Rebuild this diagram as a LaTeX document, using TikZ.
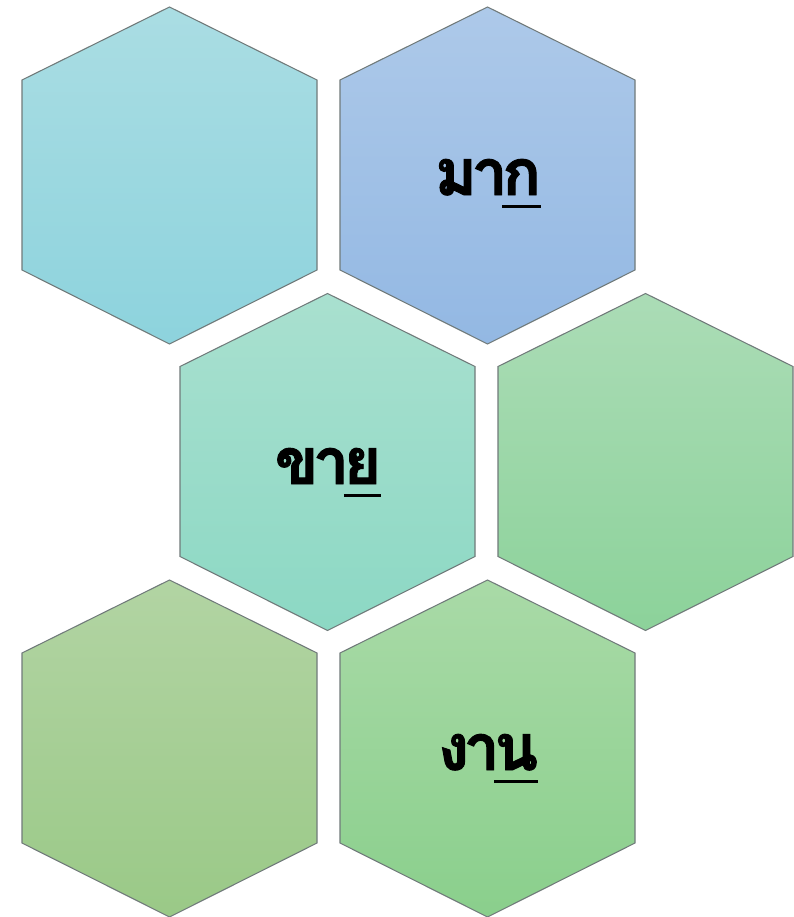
\documentclass[tikz,border=0pt]{standalone}
\usepackage{fontspec}
\newfontfamily\thaifont[Script=Thai, BoldFeatures={FakeBold=1.5}]{Loma}
\usetikzlibrary{positioning}

\definecolor{hexedge}{RGB}{112,122,122}
\definecolor{tealtop}{RGB}{170,221,227}
\definecolor{tealbot}{RGB}{141,211,221}
\definecolor{bluetop}{RGB}{173,201,233}
\definecolor{bluebot}{RGB}{147,184,227}
\definecolor{minttop}{RGB}{169,224,207}
\definecolor{mintbot}{RGB}{140,216,196}
\definecolor{greentop}{RGB}{171,220,182}
\definecolor{greenbot}{RGB}{140,210,154}
\definecolor{olivetop}{RGB}{178,212,163}
\definecolor{olivebot}{RGB}{154,201,135}
\definecolor{leaftop}{RGB}{169,218,167}
\definecolor{leafbot}{RGB}{138,207,140}

\newcommand{\hexcell}[2]{(#1,#2) ++(0,-168.5) -- ++(147.5,73) -- ++(0,190) -- ++(-147.5,74) -- ++(-147.5,-74) -- ++(0,-190) -- cycle}
\newcommand{\thaiul}[1]{\setbox0=\hbox{#1}\rlap{\rule[-9.8pt]{\wd0}{2.3pt}}\box0}
\newcommand{\tk}{\kern-4pt}

\begin{document}
\begin{tikzpicture}[x=0.75pt, y=-0.75pt,
    hexline/.style={draw=hexedge, line width=0.8pt, shading=axis, shading angle=0},
    hextext/.style={font=\thaifont\bfseries\fontsize{48}{58}\selectfont, anchor=base, inner sep=0pt}]
    \useasboundingbox (0,0) rectangle (793,917);

    \draw[hexline, top color=tealtop, bottom color=tealbot] \hexcell{169.5}{175.5};
    \draw[hexline, top color=bluetop, bottom color=bluebot] \hexcell{487.5}{175.5};
    \draw[hexline, top color=minttop, bottom color=mintbot] \hexcell{327.5}{462};
    \draw[hexline, top color=greentop, bottom color=greenbot] \hexcell{645.5}{462};
    \draw[hexline, top color=olivetop, bottom color=olivebot] \hexcell{169.5}{748.5};
    \draw[hexline, top color=leaftop, bottom color=leafbot] \hexcell{487.5}{748.5};

    \node[hextext] (mak) at (488,195) {ม\tk า\tk\thaiul{ก}};
    \node[hextext] (khai) at (328,484) {ข\tk า\tk\thaiul{ย}};
    \node[hextext] (ngan) at (488,770) {ง\tk า\tk\thaiul{น}};
\end{tikzpicture}
\end{document}
